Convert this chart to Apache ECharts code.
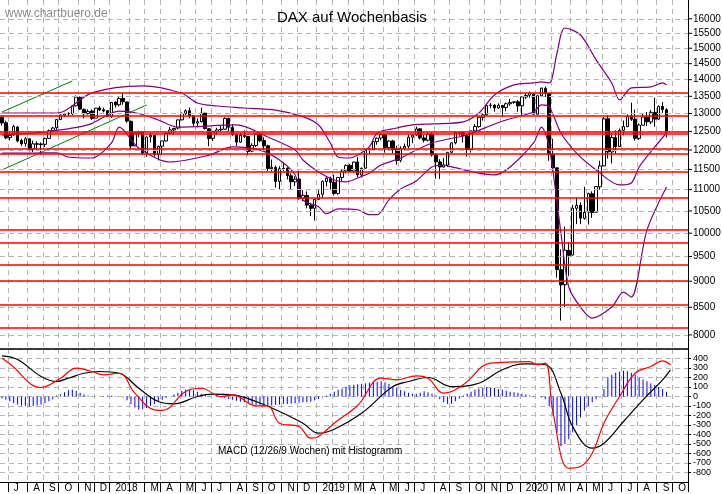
<!DOCTYPE html>
<html>
<head>
<meta charset="utf-8">
<script src="https://cdn.jsdelivr.net/npm/echarts@6/dist/echarts.min.js"></script>
<style>html,body{margin:0;padding:0;background:#fff}#chart{width:723px;height:494px}</style>
</head>
<body>
<div id="chart"></div>
<script>
// Wochenkerzen DAX ab 19.06.2017: [open, close, low, high]
var candles = [
[12890,12733,12660,12950],[12740,12325,12290,12800],[12330,12389,12250,12470],[12400,12631,12380,12680],
[12620,12240,12200,12650],[12250,12162,12110,12300],[12170,12297,12090,12340],[12300,12014,11960,12320],
[12020,12165,11950,12250],[12150,12168,12000,12230],[12160,12142,11870,12200],[12150,12304,12080,12330],
[12310,12519,12300,12550],[12520,12592,12480,12620],[12600,12828,12540,12840],[12830,12955,12820,12970],
[12960,12992,12900,13020],[13000,12991,12920,13040],[12990,13218,12950,13240],[13220,13478,13200,13525],
[13470,13127,13100,13490],[13120,12994,12860,13140],[13000,13060,12970,13120],[13070,12862,12820,13120],
[12870,13153,12870,13160],[13160,13104,13070,13210],[13110,13072,13030,13170],[13080,12918,12900,13090],
[12920,13320,12870,13330],[13330,13245,13170,13350],[13250,13434,13200,13480],[13440,13340,13250,13596],
[13330,12785,12740,13340],[12780,12107,12030,12800],[12110,12452,12100,12500],[12450,12483,12340,12520],
[12480,11914,11870,12500],[11920,12346,11820,12360],[12350,12390,12200,12470],[12390,11886,11830,12400],
[11890,12097,11730,12110],[12100,12241,11870,12250],[12240,12442,12230,12480],[12450,12540,12430,12620],
[12540,12580,12410,12600],[12590,12820,12550,12830],[12820,13001,12810,13030],[13000,13078,12960,13120],
[13080,12938,12860,13170],[12940,12724,12630,12950],[12730,12766,12610,12860],[12770,13011,12750,13170],
[13010,12580,12550,13010],[12570,12306,12100,12590],[12310,12497,12240,12520],[12500,12541,12400,12600],
[12540,12561,12480,12650],[12560,12860,12550,12890],[12860,12616,12500,12880],[12610,12424,12380,12700],
[12420,12210,12100,12430],[12210,12394,12190,12460],[12390,12364,12320,12530],[12360,11960,11860,12370],
[11970,12124,11940,12180],[12120,12430,12080,12440],[12430,12247,12210,12440],[12250,12112,12000,12340],
[12110,11524,11460,12140],[11520,11554,11440,11750],[11550,11201,11050,11600],[11200,11519,11010,11580],
[11520,11529,11450,11690],[11530,11341,11250,11550],[11340,11193,11010,11400],[11190,11257,11090,11330],
[11260,10788,10760,11470],[10790,10865,10730,10990],[10860,10634,10560,10960],[10630,10559,10380,10690],
[10560,10768,10280,10790],[10770,10888,10750,10990],[10890,11205,10800,11220],[11200,11282,11080,11300],
[11280,11181,11000,11320],[11180,10907,10860,11370],[10910,11300,10880,11310],[11300,11458,11200,11500],
[11460,11602,11400,11620],[11600,11458,11440,11640],[11460,11686,11440,11700],[11690,11364,11300,11820],
[11360,11526,11300,11550],[11530,12010,11520,12020],[12010,12000,11900,12050],[12000,12222,11990,12240],
[12220,12315,12140,12330],[12320,12412,12260,12440],[12410,12060,11930,12400],[12060,12238,11990,12260],
[12240,12011,11920,12270],[12010,11727,11620,12110],[11730,12045,11680,12100],[12050,12096,11990,12170],
[12100,12340,12040,12420],[12340,12399,12180,12420],[12400,12568,12380,12630],[12570,12323,12280,12580],
[12320,12260,12200,12400],[12260,12419,12230,12500],[12420,11872,11830,12480],[11870,11693,11270,11900],
[11690,11562,11260,11760],[11560,11612,11550,11790],[11610,11939,11560,11950],[11940,12191,11910,12200],
[12190,12469,12150,12480],[12470,12468,12380,12490],[12470,12381,12200,12440],[12380,12013,11830,12440],
[12010,12512,11930,12520],[12510,12634,12530,12700],[12630,12894,12600,12900],[12890,12961,12800,13000],
[12960,13229,12940,13290],[13230,13242,13150,13300],[13240,13164,13050,13270],[13160,13236,13130,13290],
[13230,13167,12890,13250],[13170,13282,13060,13320],[13280,13318,13220,13425],[13320,13337,13280,13350],
[13340,13219,13050,13390],[13220,13483,12950,13500],[13480,13526,13420,13600],[13530,13577,13460,13640],
[13570,12982,12970,13590],[12980,13514,12970,13530],[13510,13744,13480,13760],[13740,13579,13480,13796],
[13580,11890,11720,13580],[11890,11542,11450,12300],[11540,9232,9070,11540],[9230,8929,8256,9650],
[8930,9633,8500,10150],[9630,9525,9100,9810],[9530,10564,9520,10640],[10560,10626,10200,10820],
[10630,10336,10200,10700],[10330,10467,10300,11070],[10470,10904,10190,10930],[10900,10465,10340,10960],
[10470,11074,10480,11080],[11070,11587,11000,11720],[11590,12848,11580,12900],[12850,11949,11780,12950],
[11950,12331,11650,12450],[12330,12089,11900,12530],[12090,12528,12100,12580],[12530,12633,12390,12800],
[12630,12920,12620,12970],[12920,12838,12790,13315],[12840,12313,12250,13110],[12310,12674,12270,12720],
[12670,12901,12680,13010],[12900,12764,12650,13040],[12760,13033,12700,13100],[13030,12842,12630,13460],
[12840,13202,12820,13230],[13200,13116,13020,13330],[13110,12469,12340,13150]
];

// Bollinger-Bänder [Woche, Wert]
var bbUpper = [[0,13014],[14,13014],[23,13600],[36,13810],[46,13590],[50,13304],[55,13215],[62,13157],[70,13099],
  [77,12910],[81,12676],[84,12185],[86,11817],[89,11791],[91,11868],[94,12080],[96,12456],[101,12593],[105,12678],
  [110,12706],[118,12762],[122,13014],[126,13540],[131,13841],[136,13900],[138,13932],[140,13900],[142,14845],
  [144,15681],[148,15442],[152,14620],[156,13900],[158,13392],[161,13750],[166,13780],[169,13900],[170,13840]];
var bbMiddle = [[0,12400],[11,12486],[22,12678],[30,13070],[35,13000],[40,12817],[45,12617],[60,12678],[68,12347],
  [75,11998],[77,11740],[81,11436],[85,11237],[88,11189],[91,11287],[94,11410],[97,11612],[102,11791],[106,11998],
  [110,12186],[113,12266],[119,12401],[124,12617],[129,12817],[136,13042],[138,13246],[140,13186],[143,12456],
  [147,11920],[152,11486],[158,11115],[161,11164],[163,11562],[167,12080],[170,12456]];
var bbLower = [[0,11920],[8,11920],[14,11927],[17,11817],[23,11791],[28,12186],[30,12617],[35,12054],[43,11689],
  [53,11868],[59,12080],[66,11998],[71,11740],[75,11361],[77,10759],[81,10595],[83,10436],[86,10549],[91,10526],
  [94,10413],[96,10413],[99,10759],[102,11018],[106,11213],[110,11562],[113,11612],[115,11562],[126,11361],
  [130,11562],[136,12186],[138,12617],[140,12080],[143,10002],[145,8886],[148,8504],[151,8301],[156,8504],
  [159,8788],[161,8692],[165,10068],[170,11067]];

// Trendkanal (grün)
var channelTop = [[0,13040],[18,13960]];
var channelBottom = [[0,11486],[37,13246]];

// Horizontale Marken (rot)
var levels = [13600,12950,12500,12430,12030,11900,11450,10800,10070,9800,9340,9000,8550,8130];
var priceTicks = [8000,8500,9000,9500,10000,10500,11000,11500,12000,12500,13000,13500,14000,14500,15000,15500,16000];

// MACD
var macdLine = [[0,403],[2,344],[10,95],[15,193],[19,298],[23,263],[26,228],[30,245],[34,35],[39,-140],[41,-147],
  [47,53],[51,87],[56,0],[59,18],[65,-98],[68,-98],[71,-281],[76,-316],[79,-439],[81,-421],[85,-281],[91,-95],
  [97,193],[101,176],[106,218],[109,193],[113,35],[118,123],[125,351],[135,368],[137,334],[139,351],[141,-176],
  [145,-755],[148,-737],[151,-597],[154,-281],[158,0],[162,245],[166,316],[169,376],[171,334]];
var signalLine = [[0,428],[4,389],[10,211],[14,158],[17,193],[21,245],[25,263],[30,245],[35,87],[40,-53],[44,-77],
  [50,0],[54,24],[59,18],[65,-53],[71,-158],[77,-281],[81,-386],[85,-344],[92,-176],[100,105],[104,158],[109,200],
  [115,105],[122,140],[128,281],[134,344],[139,334],[143,35],[146,-316],[151,-544],[154,-492],[159,-263],
  [164,-35],[169,176],[171,281]];
var histogram = [
  -20,-35,-50,-70,-85,-95,-100,-105,-100,-95,-85,-70,-50,-30,
  10,25,45,65,75,60,40,
  20,10,0,-5,0,5,10,8,5,0,-10,
  -40,-80,-115,-140,-135,-120,-100,-80,-55,-35,-15,0,
  20,40,60,75,70,65,50,30,15,5,0,
  -5,-10,-15,-25,-35,-45,-55,-60,-70,-80,-90,-95,
  -100,-100,-95,-90,-85,-80,-80,-75,-70,-65,-60,-60,-55,-40,-25,-10,
  10,30,50,70,85,100,115,125,130,135,140,145,150,155,160,150,135,110,
  90,70,55,40,30,30,40,55,45,30,
  10,-30,-60,-80,-75,-50,-20,
  10,30,50,70,85,95,100,95,90,80,70,60,50,45,40,30,20,10,
  5,0,-10,-30,
  -100,-200,-380,-520,-500,-450,-380,-300,-220,-150,
  -100,-60,-30,-10,
  80,200,230,250,260,270,265,250,230,200,
  180,160,140,120,100,80,50
];

var monthLetters = ['J','F','M','A','M','J','J','A','S','O','N','D'];
var weeks = [];
var start = Date.UTC(2017, 5, 19);
for (var i = 0; i < 176; i++) {
    var d = new Date(start + i * 7 * 86400000);
    weeks.push(d.toISOString().slice(0, 10));
}
function monthStart(idx) {
    return +weeks[idx].slice(8, 10) <= 7;
}
function monthLabel(val) {
    var m = +val.slice(5, 7) - 1;
    if (m === 0) return val.slice(0, 4);
    if (m === 1) return '';
    return monthLetters[m];
}

var font = 'Liberation Sans';
var myChart = echarts.init(document.getElementById('chart'));

var levelLines = levels.map(function (v) { return {yAxis: v}; });
var gridLines = priceTicks.map(function (v) { return {yAxis: v}; });

var option = {
    animation: false,
    backgroundColor: '#fff',
    textStyle: {fontFamily: font},
    title: {
        text: 'DAX auf Wochenbasis', left: 272, top: 5,
        textStyle: {fontSize: 15, fontWeight: 'normal', color: '#000', fontFamily: font}
    },
    grid: [
        {left: 0, right: 35, top: 0, height: 349},
        {left: 0, right: 35, top: 349, height: 133}
    ],
    xAxis: [
        {
            type: 'category', gridIndex: 0, data: weeks, boundaryGap: true,
            axisLine: {show: true, onZero: false, lineStyle: {color: '#000', width: 1.5}},
            axisTick: {show: false}, axisLabel: {show: false},
            splitLine: {show: true, interval: function (i) { return monthStart(i); },
                lineStyle: {color: '#b5b5b5', type: [5, 4]}}
        },
        {
            type: 'category', gridIndex: 1, data: weeks, boundaryGap: true,
            axisLine: {show: true, onZero: false, lineStyle: {color: '#000'}},
            axisTick: {show: true, length: 10, interval: function (i) { return monthStart(i); },
                lineStyle: {color: '#000'}},
            axisLabel: {
                interval: function (i) { return monthStart(i); },
                formatter: monthLabel, fontSize: 10, color: '#000', margin: 1, align: 'left',
                padding: [0, 0, 0, 4]
            },
            splitLine: {show: true, interval: function (i) { return monthStart(i); },
                lineStyle: {color: '#b5b5b5', type: [5, 4]}}
        }
    ],
    yAxis: [
        {
            type: 'log', gridIndex: 0, position: 'right', min: 7757, max: 16673,
            axisLine: {show: true, lineStyle: {color: '#000'}},
            axisTick: {show: false}, axisLabel: {show: false}, splitLine: {show: false}
        },
        {
            type: 'value', gridIndex: 1, position: 'right', min: -900, max: 500, interval: 100,
            axisLine: {show: true, lineStyle: {color: '#000'}},
            axisTick: {show: true, length: 3, lineStyle: {color: '#000'}},
            axisLabel: {fontSize: 9, color: '#000', margin: 5, showMinLabel: false, showMaxLabel: false},
            splitLine: {show: true, lineStyle: {color: '#b5b5b5', type: [5, 4]}}
        }
    ],
    series: [
        {
            type: 'line', xAxisIndex: 0, yAxisIndex: 0, data: [], silent: true,
            markLine: {symbol: 'none', silent: true, label: {show: false},
                lineStyle: {color: '#b5b5b5', type: [5, 4], width: 1}, data: gridLines}
        },
        {
            type: 'line', xAxisIndex: 0, yAxisIndex: 0, data: [], silent: true,
            markLine: {symbol: 'none', silent: true, label: {show: false},
                lineStyle: {color: '#ff0000', type: 'solid', width: 1.5}, data: levelLines}
        },
        {
            name: 'channelTop', type: 'line', xAxisIndex: 0, yAxisIndex: 0, data: channelTop,
            showSymbol: false, lineStyle: {color: '#008000', width: 1}
        },
        {
            name: 'channelBottom', type: 'line', xAxisIndex: 0, yAxisIndex: 0, data: channelBottom,
            showSymbol: false, lineStyle: {color: '#008000', width: 1}
        },
        {
            name: 'upper', type: 'line', xAxisIndex: 0, yAxisIndex: 0, data: bbUpper, smooth: 0.3,
            showSymbol: false, lineStyle: {color: '#800080', width: 1.2}
        },
        {
            name: 'middle', type: 'line', xAxisIndex: 0, yAxisIndex: 0, data: bbMiddle, smooth: 0.3,
            showSymbol: false, lineStyle: {color: '#800080', width: 1.2}
        },
        {
            name: 'lower', type: 'line', xAxisIndex: 0, yAxisIndex: 0, data: bbLower, smooth: 0.3,
            showSymbol: false, lineStyle: {color: '#800080', width: 1.2}
        },
        {
            name: 'DAX', type: 'candlestick', xAxisIndex: 0, yAxisIndex: 0, data: candles, barWidth: 3,
            itemStyle: {color: '#fff', color0: '#000', borderColor: '#000', borderColor0: '#000', borderWidth: 1}
        },
        {
            name: 'Histogramm', type: 'bar', xAxisIndex: 1, yAxisIndex: 1, data: histogram,
            barWidth: 1, itemStyle: {color: '#0000ff'}
        },
        {
            name: 'Signal', type: 'line', xAxisIndex: 1, yAxisIndex: 1, data: signalLine, smooth: 0.4,
            showSymbol: false, lineStyle: {color: '#000', width: 1.2}
        },
        {
            name: 'MACD', type: 'line', xAxisIndex: 1, yAxisIndex: 1, data: macdLine, smooth: 0.4,
            showSymbol: false, lineStyle: {color: '#ff0000', width: 1.2}
        }
    ]
};
myChart.setOption(option);

// Beschriftung der logarithmischen Kursachse + Texte
var gfx = [
    {type: 'text', left: 5, top: 8, style: {text: 'www.chartbuero.de', fill: '#8c8c8c', font: '12px ' + font}},
    {type: 'text', left: 218, top: 446, style: {text: 'MACD (12/26/9 Wochen) mit Histogramm', fill: '#000', font: '10px ' + font}}
];
priceTicks.forEach(function (v) {
    var y = myChart.convertToPixel({yAxisIndex: 0}, v);
    gfx.push({type: 'line', shape: {x1: 688, y1: y, x2: 692, y2: y}, style: {stroke: '#000', lineWidth: 1}});
    gfx.push({type: 'text', x: 693, y: y, style: {text: String(v), fill: '#000', font: '10px ' + font, textVerticalAlign: 'middle'}});
});
myChart.setOption({graphic: gfx});
</script>
</body>
</html>
